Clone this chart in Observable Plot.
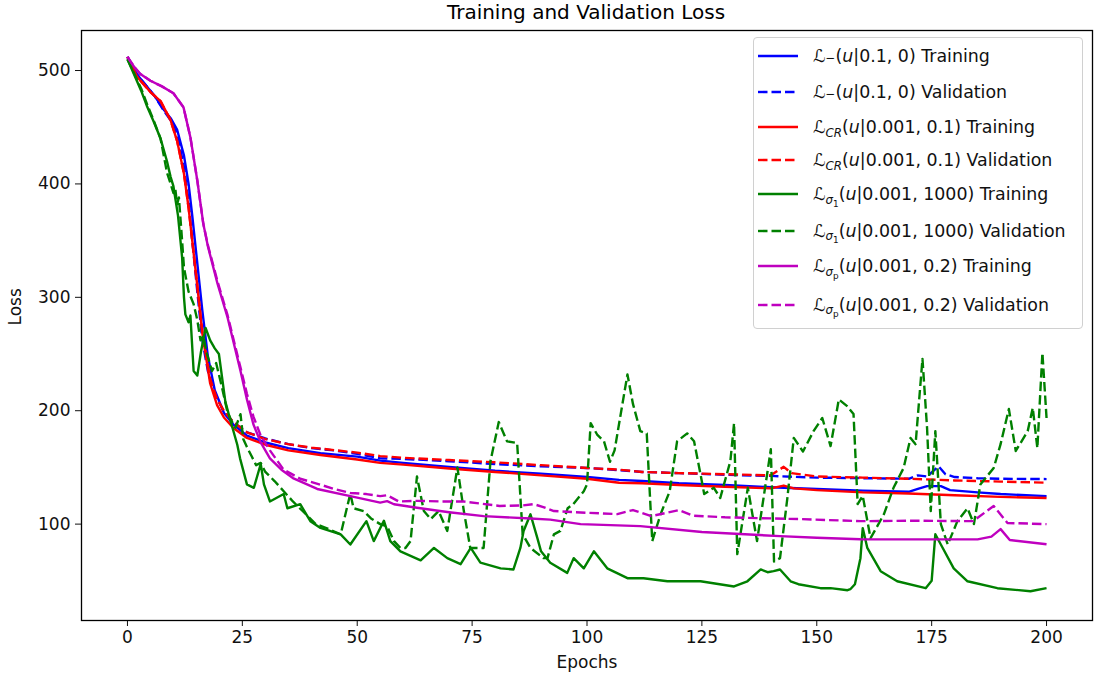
<!DOCTYPE html>
<html>
<head>
<meta charset="utf-8">
<script src="https://cdn.jsdelivr.net/npm/d3@7"></script>
<script src="https://cdn.jsdelivr.net/npm/@observablehq/plot@0.6"></script>
<style>
  html, body { margin: 0; padding: 0; background: #fff; }
  #wrap { position: relative; width: 1095px; height: 681px; overflow: hidden; font-family: "DejaVu Sans", sans-serif; }
  #title { position: absolute; left: 0; width: 1172px; top: 2px; text-align: center; font-size: 20px; line-height: 20px; color: #000; }
  #legend { position: absolute; left: 753px; top: 37px; width: 330px; height: 292px; border: 1px solid #d0d0d0; border-radius: 4px; background: rgba(255,255,255,0.85); box-sizing: border-box; }
  .row { position: absolute; left: 0; height: 26px; display: flex; align-items: center; white-space: nowrap; font-size: 17.4px; color: #111; }
  .row svg { margin-left: 4px; margin-right: 15px; }
  .cal { font-style: italic; }
  .row sub { font-size: 0.68em; vertical-align: -0.32em; line-height: 0; }
  .row sub.minus { vertical-align: 0.02em; }
  .row sub sub { font-size: 0.75em; vertical-align: -0.3em; }
</style>
</head>
<body>
<div id="wrap">
  <div id="title">Training and Validation Loss</div>
  <div id="chart"></div>
  <div id="legend"></div>
</div>
<script>
// ---- Data (epoch, loss) ----
const blueTrain = [[0,512],[2,497],[4,487],[6,477],[8,465],[9.4,458],[10.8,448],[12.3,425],[13.3,400],[14.1,372],[15.2,330],[16.3,288],[17.5,248],[19,218],[21,198],[23,188],[26,178],[30,172],[35,167],[42,162.5],[50,159.5],[55,156],[60,154],[70,150.5],[80,147],[90,144.5],[100,141.5],[107,139],[112,138],[120,136],[130,134.5],[140,132.5],[150,131],[160,129.5],[170,128.5],[172,131],[174,133.5],[177,133.5],[179,130],[185,128],[190,126.5],[200,124.7]];
const blueVal = [[0,512],[2,497],[4,487],[6,477],[8,464],[9.4,456],[10.8,444],[12.3,415],[13.3,385],[14.1,350],[15.2,305],[16.3,262],[17.5,235],[19,215],[21,199],[23,190],[26,181],[30,175.5],[35,170.5],[40,167],[45,165],[50,162],[55,158],[60,157.5],[70,155.5],[80,153],[90,151],[100,149.5],[107,147.6],[112,146],[120,145],[130,143.5],[140,142.5],[150,141],[160,140.5],[170,140],[172,143],[174,142],[176.5,151],[178,144],[180,141.5],[185,140.5],[190,140],[200,139.7]];
const redTrain = [[0,512],[2,495],[3.5,488],[5,481],[7.2,473],[9.4,456],[10.8,438],[12.3,409],[13.3,379],[14.1,350],[15.2,310],[16.3,268],[18,224],[19.5,205],[21,194],[23,185],[26,176],[30,170],[35,165],[42,161],[50,157],[55,154],[60,152.5],[70,149],[80,146],[90,143],[100,140],[107,136.5],[112,136],[120,134.5],[130,133],[140,131.5],[142.8,134],[145,131.5],[150,130],[160,128],[170,127],[180,125.5],[190,124],[200,123]];
const redVal = [[0,512],[2,495],[3.5,488],[5,481],[7.2,473],[9.4,456],[10.8,438],[12.3,409],[13.3,379],[14.1,350],[15.2,310],[16.3,270],[18,228],[19.5,210],[21,200],[23,190],[26,181],[30,175],[35,170.5],[40,167.5],[50,163],[55,160],[60,158.5],[70,156.5],[80,154.5],[90,152],[100,149.5],[107,148],[112,146],[120,145],[130,144],[140,143],[142.8,150.5],[144.5,145],[150,142],[160,141],[170,140],[180,138.5],[190,137.5],[200,136.5]];
const greenTrain = [[0,510],[1.4,497],[3,482],[4.3,468],[5.7,455],[7.2,440],[8.6,420],[9.4,406],[10,398],[11,372],[11.9,335],[12.3,300],[12.6,285],[13.3,278],[13.7,284],[14.4,235],[15.2,231],[16,252],[17,273],[18,262],[19,255],[19.9,250],[21.3,208],[22.5,190],[23.9,170],[24.5,158],[26,135],[27.5,132],[29,153],[29.7,135],[31,120],[34,126.5],[34.8,114],[37.6,117.6],[39.8,102.6],[42,96.6],[46.4,91],[48.5,82],[52,102.6],[53.6,85],[55.8,103],[57.2,85],[59.4,76],[63.8,68],[66.7,79],[69.6,70],[72.5,64.7],[74.7,79],[76.8,66],[81.2,61],[84,60],[85.5,79],[86.2,94],[87.7,108.7],[89.2,87.6],[90,76],[92,66],[95.7,57],[97.1,70],[99.3,61],[101.5,76],[104.4,61],[108.8,52.3],[112.3,52.3],[117.5,49.6],[124.7,49.6],[132,45],[134.9,49.6],[137.8,60],[139.3,57.6],[140.6,58.5],[142,60],[144.3,49.6],[146,47],[150.8,43.5],[153,43.5],[156.7,41.7],[157.3,42.6],[158.3,47],[159.5,70],[160,96.5],[161,79],[163.9,58.5],[167.5,49.6],[173.7,43.5],[175,50],[175.8,91],[177,82],[179.8,61],[182.8,49.6],[189.3,43.5],[196.5,40.8],[200,43.5]];
const greenVal = [[0,510],[1.4,498],[3,484],[4.3,470],[5.7,456],[7.2,440],[7.9,425],[8.6,410],[9.4,400],[10,392],[10.4,396],[10.8,382],[11.2,388],[11.8,355],[12.3,326],[13.3,305],[14.4,294],[15.2,280],[15.9,262],[16.5,266],[17.3,250],[18.4,235],[19.3,242],[20.6,220],[21.7,200],[22.5,192],[23.5,185],[24.6,197],[25.2,175],[26,168],[27,160],[28,152],[29,154],[30,146],[32,138],[34,129],[36,120],[38,112],[41,100],[43,97],[46.4,91],[48.5,127],[49.2,114],[51.4,111.5],[53,105],[55,100],[56.5,98],[58,85],[59.4,79],[60.5,79],[61.6,85],[63,142],[64.5,111.5],[66,104.4],[67.7,111.5],[69.6,94],[71.8,150],[73.2,111.5],[74.6,79],[77.5,79],[79,155.6],[80.8,190],[82.6,173],[84.8,171.5],[86,91],[87.7,79],[90.5,70],[91.4,70],[92.8,91],[94.2,94],[95.8,114],[97,117.6],[99.3,129],[100,135],[100.8,189],[102.2,179],[103.7,173],[105,155],[106,165],[108.8,232],[110,206],[111.6,182],[113,180],[114.2,85],[116,108.6],[118,129],[119.6,173],[121.8,180],[123.3,173],[124.7,144],[125.5,126.5],[127.6,132],[129,123],[131.2,155.6],[132,189],[132.7,73.5],[135,132],[137,85],[139.3,146.8],[140,166],[140.7,67],[142,70],[143.6,123],[145,176],[147,164],[149.3,182],[151.2,193.6],[153,168.8],[154.8,210],[156.6,204],[158,197],[158.9,117.6],[160,125],[161.7,87.6],[164.6,108.6],[166.7,132],[168.9,149.5],[170.4,176],[171.5,170.5],[173,245.7],[174,184.8],[174.8,111.5],[175.8,182],[177,100],[178.5,82],[180.6,102.6],[182.8,114],[184.2,100],[185.6,135],[188.5,149.5],[190,170.5],[191.8,201.5],[193.3,164.5],[195.9,182],[197,202.5],[198,167],[199.1,251],[200,193.6]];
const magentaTrain = [[0,512],[1.5,503],[2.8,497],[5,491],[7.5,486],[10,480],[12.2,467.5],[13.7,441],[15.2,403],[16.5,365],[17.5,345],[19.6,312],[21.8,282],[24.6,235],[26,210],[27.4,188],[29,172],[31,158],[33.5,148],[36,140.6],[41.3,131],[48.5,124.7],[55,119],[56.5,120.3],[58,117.5],[63,114.4],[70,110.5],[77.5,107],[87.7,105],[92,104],[98.6,100],[111.6,98.2],[125,93],[142,89.4],[150,88],[159.5,86.7],[170,86.5],[185,86.5],[188,89],[190,95.6],[192,86],[200,82.3]];
const magentaVal = [[0,512],[1.5,503],[2.8,497],[5,491],[7.5,486],[10,480],[12.2,467.5],[13.7,441],[15.2,403],[16.5,365],[17.5,346],[19.6,314],[21.8,284],[24.6,238],[26,215],[27.4,195],[29,178],[31,165],[34,148],[37.6,140],[41,136],[45,131],[48.5,127.5],[52,126.5],[55,124.7],[56.5,125.5],[59,120],[63,120.5],[68,120],[73,120],[81,116],[86,116.5],[88.4,117.6],[90.5,115],[92.8,111.5],[100,110],[106.6,108.8],[110,112.4],[114,107],[120,112.4],[123,107.5],[130,106],[146.5,104.4],[159.5,102.6],[170,103],[184,102.6],[188.5,116],[191.5,101],[200,100]];

const xTicks = [0, 25, 50, 75, 100, 125, 150, 175, 200];
const yTicks = [100, 200, 300, 400, 500];

const seriesData = [blueTrain, blueVal, redTrain, redVal, greenTrain, greenVal, magentaTrain, magentaVal];
const seriesColors = ["#0000ff","#0000ff","#ff0000","#ff0000","#008000","#008000","#bf00bf","#bf00bf"];
const seriesDashed = [false, true, false, true, false, true, false, true];
const legendLabels = [
  '<span class="cal">ℒ</span><sub class="minus">−</sub>(<i>u</i>|0.1, 0) Training',
  '<span class="cal">ℒ</span><sub class="minus">−</sub>(<i>u</i>|0.1, 0) Validation',
  '<span class="cal">ℒ</span><sub><i>CR</i></sub>(<i>u</i>|0.001, 0.1) Training',
  '<span class="cal">ℒ</span><sub><i>CR</i></sub>(<i>u</i>|0.001, 0.1) Validation',
  '<span class="cal">ℒ</span><sub><i>σ</i><sub>1</sub></sub>(<i>u</i>|0.001, 1000) Training',
  '<span class="cal">ℒ</span><sub><i>σ</i><sub>1</sub></sub>(<i>u</i>|0.001, 1000) Validation',
  '<span class="cal">ℒ</span><sub><i>σ</i><sub>p</sub></sub>(<i>u</i>|0.001, 0.2) Training',
  '<span class="cal">ℒ</span><sub><i>σ</i><sub>p</sub></sub>(<i>u</i>|0.001, 0.2) Validation'
];
const legendRowY = [55, 90.5, 125.5, 159, 193, 229.5, 265, 303.5];

const lineMarks = seriesData.map((data, i) => Plot.line(data, {
  x: d => d[0], y: d => d[1],
  stroke: seriesColors[i], strokeWidth: 2.4,
  strokeDasharray: seriesDashed[i] ? "9.5,4" : null,
  strokeLinejoin: "round", strokeLinecap: "butt"
}));

const chart = Plot.plot({
  width: 1095, height: 681,
  marginLeft: 81, marginRight: 3, marginTop: 30, marginBottom: 61,
  style: { fontFamily: "DejaVu Sans, sans-serif", fontSize: "17px", color: "#111", background: "transparent" },
  x: { domain: [-10, 210], ticks: xTicks, tickSize: 6, tickPadding: 4, label: null },
  y: { domain: [15, 535.3], ticks: yTicks, tickSize: 6, tickPadding: 5, label: null },
  marks: [
    ...lineMarks,
    Plot.frame({ stroke: "#000", strokeWidth: 1.3 }),
    Plot.text(["Epochs"], { frameAnchor: "bottom", dy: 47, fontSize: 17, fill: "#111" }),
    Plot.text(["Loss"], { frameAnchor: "left", dx: -66, rotate: -90, fontSize: 17, fill: "#111" })
  ]
});
document.getElementById("chart").appendChild(chart);

// legend
const legend = document.getElementById("legend");
legendLabels.forEach((lab, i) => {
  const row = document.createElement("div");
  row.className = "row";
  row.style.top = (legendRowY[i] - 37 - 13) + "px";
  const dash = seriesDashed[i] ? 'stroke-dasharray="9.5,4"' : '';
  row.innerHTML = `<svg width="40" height="6"><line x1="0" y1="3" x2="40" y2="3" stroke="${seriesColors[i]}" stroke-width="2.4" ${dash}/></svg><span>${lab}</span>`;
  legend.appendChild(row);
});
</script>
</body>
</html>
